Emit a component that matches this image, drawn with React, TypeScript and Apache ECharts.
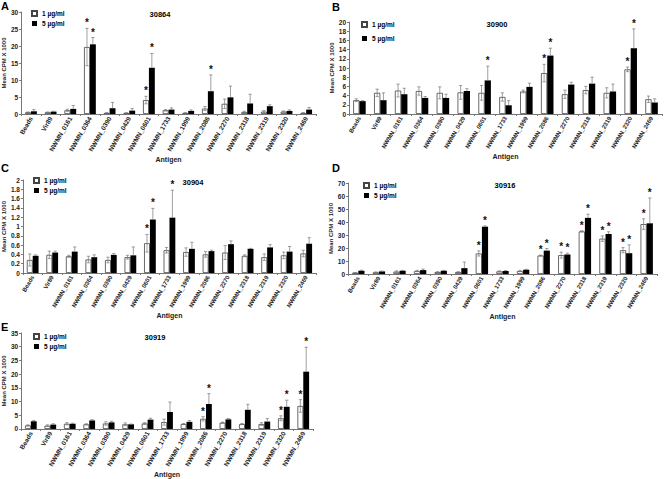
import React, { useEffect, useRef } from "react";
import * as echarts from "echarts";

const categories = [
  "Beads", "Vir89", "NWMN_0161", "NWMN_0364", "NWMN_0390", "NWMN_0429", "NWMN_0601",
  "NWMN_1733", "NWMN_1999", "NWMN_2086", "NWMN_2270", "NWMN_2318", "NWMN_2319", "NWMN_2320", "NWMN_2469",
];
const seriesNames = ["1 µg/ml", "5 µg/ml"];
const panelLetters = ["A", "B", "C", "D", "E"];
const panelTitles = ["30864", "30900", "30904", "30916", "30919"];
const yMax = [30, 20, 2, 70, 35];
const yStep = [5, 2, 0.2, 10, 5];

// Panel A (30864)
const a1 = [0.5, 0.5, 1.1, 19.7, 0.3, 0.3, 4.1, 1.1, 0.3, 1.6, 3.0, 0.6, 0.7, 0.7, 0.3];
const a1Err = [0.1, 0.1, 0.3, 5.5, 0.1, 0.1, 1.1, 0.2, 0.1, 0.6, 1.4, 0.2, 0.3, 0.2, 0.1];
const a5 = [0.8, 0.7, 1.5, 20.5, 1.7, 1.0, 13.6, 1.3, 0.9, 6.7, 4.9, 3.1, 2.3, 0.9, 1.3];
const a5Err = [0.5, 0.1, 1.0, 2.0, 1.7, 0.6, 4.2, 0.5, 0.3, 4.8, 3.3, 2.7, 0.4, 0.3, 0.6];
const aStar1 = [3, 6];
const aStar5 = [3, 6, 9];

// Panel B (30900)
const b1 = [3.0, 4.6, 5.1, 5.0, 4.6, 4.7, 4.6, 3.7, 4.9, 8.9, 4.3, 5.2, 4.6, 9.7, 3.2];
const b1Err = [0.3, 0.8, 1.4, 0.9, 1.3, 1.5, 1.6, 0.9, 0.3, 1.9, 0.9, 0.8, 1.1, 0.5, 0.7];
const b5 = [2.8, 3.0, 4.3, 3.5, 3.5, 5.0, 7.3, 1.9, 5.9, 12.7, 6.4, 6.6, 4.9, 14.3, 2.5];
const b5Err = [0.1, 1.6, 1.3, 0.3, 0.8, 0.5, 3.1, 1.0, 0.8, 1.6, 0.5, 1.4, 1.6, 4.2, 0.8];
const bStar1 = [9, 13];
const bStar5 = [6, 9, 13];

// Panel C (30904)
const c1 = [0.28, 0.39, 0.36, 0.29, 0.28, 0.34, 0.64, 0.49, 0.45, 0.4, 0.44, 0.37, 0.34, 0.38, 0.42];
const c1Err = [0.13, 0.08, 0.02, 0.07, 0.06, 0.04, 0.19, 0.06, 0.09, 0.06, 0.15, 0.02, 0.07, 0.07, 0.07];
const c5 = [0.37, 0.44, 0.46, 0.34, 0.39, 0.38, 1.15, 1.19, 0.52, 0.47, 0.62, 0.52, 0.55, 0.46, 0.63];
const c5Err = [0.02, 0.03, 0.1, 0.05, 0.03, 0.18, 0.24, 0.59, 0.14, 0.02, 0.07, 0.01, 0.06, 0.11, 0.13];
const cStar1 = [6];
const cStar5 = [6, 7];

// Panel D (30916)
const d1 = [1.0, 1.3, 1.8, 2.3, 1.5, 1.5, 15.8, 2.0, 2.3, 14.2, 14.5, 32.8, 27.2, 18.3, 38.4];
const d1Err = [0.2, 0.3, 0.6, 0.5, 0.3, 0.3, 2.0, 0.4, 0.5, 0.3, 2.3, 0.5, 2.1, 2.0, 4.1];
const d5 = [2.5, 2.0, 2.5, 3.0, 2.5, 4.5, 36.4, 2.3, 3.3, 18.0, 15.0, 43.2, 30.8, 16.0, 39.0];
const d5Err = [0.4, 0.3, 0.3, 0.8, 0.3, 4.7, 0.6, 0.3, 0.3, 1.6, 1.0, 2.8, 1.7, 6.4, 19.5];
const dStar1 = [6, 9, 10, 11, 12, 13, 14];
const dStar5 = [6, 9, 10, 11, 12, 13, 14];

// Panel E (30919)
const e1 = [1.3, 1.2, 1.9, 1.7, 2.0, 1.7, 2.0, 2.5, 1.8, 3.7, 2.3, 1.8, 1.8, 3.9, 8.4];
const e1Err = [0.2, 0.3, 0.4, 0.2, 0.6, 0.5, 0.3, 1.1, 0.2, 0.8, 0.2, 0.2, 0.5, 0.9, 2.3];
const e5 = [2.8, 1.6, 1.9, 3.1, 2.4, 1.7, 3.4, 6.2, 2.6, 9.1, 3.5, 7.0, 2.7, 8.1, 20.9];
const e5Err = [0.3, 0.3, 0.2, 0.3, 0.4, 0.1, 0.5, 3.6, 0.5, 3.8, 0.3, 2.0, 1.1, 2.4, 8.9];
const eStar1 = [9, 13, 14];
const eStar5 = [9, 13, 14];

const values1 = [a1, b1, c1, d1, e1];
const errs1 = [a1Err, b1Err, c1Err, d1Err, e1Err];
const values5 = [a5, b5, c5, d5, e5];
const errs5 = [a5Err, b5Err, c5Err, d5Err, e5Err];
const stars1 = [aStar1, bStar1, cStar1, dStar1, eStar1];
const stars5 = [aStar5, bStar5, cStar5, dStar5, eStar5];

// Layout (positions kept separate from data)
const grids = [
  { left: 21, top: 12, width: 295, height: 102 },
  { left: 349, top: 22, width: 313, height: 92 },
  { left: 20, top: 180, width: 296, height: 93 },
  { left: 348, top: 183, width: 309, height: 91 },
  { left: 21, top: 333, width: 292, height: 101 },
];
const letterPos = [
  { left: 1, top: 0 },
  { left: 332, top: 1 },
  { left: 1, top: 162 },
  { left: 332, top: 162 },
  { left: 1, top: 321 },
];
const titlePos = [
  { left: 160, top: 10 },
  { left: 497, top: 20 },
  { left: 193, top: 178 },
  { left: 505, top: 181 },
  { left: 155, top: 333 },
];
const legendPos = [
  { left: 31, top: 10, itemGap: 3 },
  { left: 361, top: 21, itemGap: 7 },
  { left: 33, top: 177, itemGap: 3 },
  { left: 363, top: 182, itemGap: 3 },
  { left: 33, top: 333, itemGap: 3 },
];
const xNameGap = [38, 31, 32, 32, 37];
const yNameGap = [13, 13, 14, 13, 13];
const xLabelSize = [6.5, 6, 6, 6, 6.5];

const FONT = "Arial, 'Liberation Sans', sans-serif";

function makeErrRender(side: number, fullWhisker: boolean) {
  return (params: any, api: any) => {
    const idx = api.value(0);
    const v = api.value(1);
    const e = api.value(2);
    const star = api.value(3);
    const band = api.size([1, 0])[0];
    const x = api.coord([idx, v])[0] + side * 0.15 * band;
    const yTop = api.coord([idx, v + e])[1];
    const yMid = api.coord([idx, v])[1];
    const yBot = api.coord([idx, Math.max(0, v - e)])[1];
    const cap = 1.6;
    const lineStyle = { stroke: "#777", lineWidth: 0.7 };
    const children: any[] = [
      { type: "line", shape: { x1: x, y1: yTop, x2: x, y2: fullWhisker ? yBot : yMid }, style: lineStyle },
      { type: "line", shape: { x1: x - cap, y1: yTop, x2: x + cap, y2: yTop }, style: lineStyle },
    ];
    if (fullWhisker) {
      children.push({ type: "line", shape: { x1: x - cap, y1: yBot, x2: x + cap, y2: yBot }, style: lineStyle });
    }
    if (star) {
      children.push({
        type: "text",
        style: {
          text: "*",
          x: x,
          y: yTop - 0.5,
          align: "center",
          verticalAlign: "bottom",
          fontSize: 10,
          fontWeight: "bold",
          fontFamily: FONT,
          fill: "#111",
        },
      });
    }
    return { type: "group", children };
  };
}

function buildOption() {
  const title: any[] = [];
  const legend: any[] = [];
  const xAxis: any[] = [];
  const yAxis: any[] = [];
  const series: any[] = [];
  const grid: any[] = grids.map((g) => ({ ...g }));

  for (let i = 0; i < 5; i++) {
    title.push({
      text: panelLetters[i],
      left: letterPos[i].left,
      top: letterPos[i].top,
      textStyle: { fontSize: 11, fontWeight: "bold", fontFamily: FONT, color: "#000" },
      padding: 0,
    });
    title.push({
      text: panelTitles[i],
      left: titlePos[i].left,
      top: titlePos[i].top,
      textAlign: "center",
      textStyle: { fontSize: 7.5, fontWeight: "bold", fontFamily: FONT, color: "#000" },
      padding: 0,
    });
    legend.push({
      data: seriesNames,
      orient: "vertical",
      left: legendPos[i].left,
      top: legendPos[i].top,
      itemGap: legendPos[i].itemGap,
      itemWidth: 5,
      itemHeight: 5,
      icon: "rect",
      padding: 0,
      selectedMode: false,
      textStyle: { fontSize: 6.5, fontWeight: "bold", fontFamily: FONT, color: "#000" },
    });
    xAxis.push({
      type: "category",
      gridIndex: i,
      data: categories,
      name: "Antigen",
      nameLocation: "middle",
      nameGap: xNameGap[i],
      nameTextStyle: { fontSize: 7, fontWeight: "bold", fontFamily: FONT, color: "#222" },
      axisLine: { lineStyle: { color: "#777", width: 1 } },
      axisTick: { show: true, length: 2, lineStyle: { color: "#777" } },
      axisLabel: {
        rotate: 60,
        interval: 0,
        fontSize: xLabelSize[i],
        fontWeight: "bold",
        fontFamily: FONT,
        color: "#222",
        margin: 3,
      },
    });
    yAxis.push({
      type: "value",
      gridIndex: i,
      min: 0,
      max: yMax[i],
      interval: yStep[i],
      name: "Mean CPM X 1000",
      nameLocation: "middle",
      nameGap: yNameGap[i],
      nameTextStyle: { fontSize: 6, fontWeight: "bold", fontFamily: FONT, color: "#222" },
      splitLine: { show: false },
      axisLine: { show: true, lineStyle: { color: "#777", width: 1 } },
      axisTick: { show: true, length: 2, lineStyle: { color: "#777" } },
      axisLabel: {
        fontSize: 6.5,
        fontWeight: "bold",
        fontFamily: FONT,
        color: "#222",
        margin: 3,
        formatter: (v: number) => String(Math.round(v * 10) / 10),
      },
    });
    series.push({
      name: seriesNames[0],
      type: "bar",
      xAxisIndex: i,
      yAxisIndex: i,
      data: values1[i],
      barGap: "0%",
      barCategoryGap: "40%",
      itemStyle: { color: "#fff", borderColor: "#444", borderWidth: 0.8 },
    });
    series.push({
      name: seriesNames[1],
      type: "bar",
      xAxisIndex: i,
      yAxisIndex: i,
      data: values5[i],
      barGap: "0%",
      barCategoryGap: "40%",
      itemStyle: { color: "#000", borderColor: "#000", borderWidth: 0 },
    });
    series.push({
      name: "err1_" + panelLetters[i],
      type: "custom",
      xAxisIndex: i,
      yAxisIndex: i,
      renderItem: makeErrRender(-1, true),
      encode: { x: 0, y: 1 },
      z: 5,
      data: values1[i].map((v, j) => [j, v, errs1[i][j], stars1[i].includes(j) ? 1 : 0]),
    });
    series.push({
      name: "err5_" + panelLetters[i],
      type: "custom",
      xAxisIndex: i,
      yAxisIndex: i,
      renderItem: makeErrRender(1, false),
      encode: { x: 0, y: 1 },
      z: 5,
      data: values5[i].map((v, j) => [j, v, errs5[i][j], stars5[i].includes(j) ? 1 : 0]),
    });
  }

  return {
    animation: false,
    backgroundColor: "#fff",
    textStyle: { fontFamily: FONT },
    title,
    legend,
    grid,
    xAxis,
    yAxis,
    series,
  };
}

export default function App() {
  const ref = useRef<HTMLDivElement>(null);
  useEffect(() => {
    if (!ref.current) return;
    const chart = echarts.init(ref.current, undefined, { renderer: "svg" });
    chart.setOption(buildOption() as any);
    return () => chart.dispose();
  }, []);
  return (
    <div
      ref={ref}
      style={{ position: "absolute", left: 0, top: 0, width: 664, height: 479, background: "#fff" }}
    />
  );
}
